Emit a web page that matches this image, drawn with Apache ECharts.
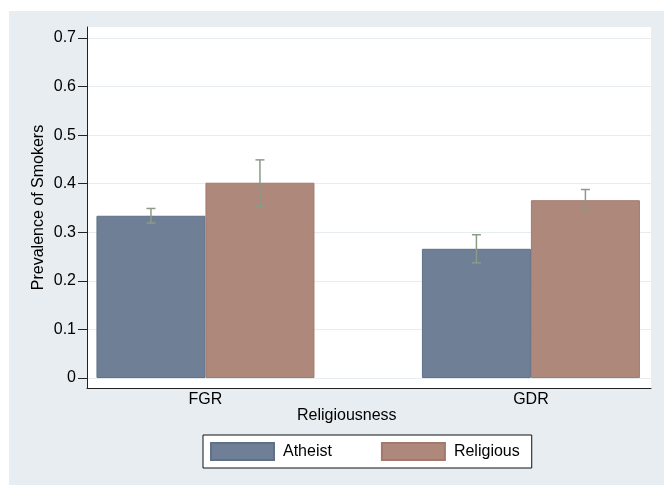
<!DOCTYPE html>
<html>
<head>
<meta charset="utf-8">
<script src="https://cdn.jsdelivr.net/npm/echarts@6/dist/echarts.min.js"></script>
<style>
  html, body { margin: 0; padding: 0; background: #fff; }
  #main { width: 664px; height: 485px; }
</style>
</head>
<body>
<div id="main"></div>
<script>
// data
let groups = ['FGR', 'GDR'];
let seriesNames = ['Atheist', 'Religious'];
let atheistVals = [0.334, 0.266];
let atheistLo = [0.319, 0.237];
let atheistHi = [0.349, 0.295];
let religiousVals = [0.402, 0.366];
let religiousLo = [0.353, 0.343];
let religiousHi = [0.449, 0.388];
let yTicks = [0, 0.1, 0.2, 0.3, 0.4, 0.5, 0.6, 0.7];

const FONT = '"Liberation Sans", Arial, Helvetica, sans-serif';
const BAR_W = 109;
const colors = ['#6e7f96', '#ae887b'];
const borders = ['#5f7089', '#a3796c'];

function createChart() {
  let myChart = echarts.init(document.getElementById('main'));

  // error bar drawer, side -1 = left bar of the group, +1 = right bar
  function errBar(side) {
    return function (params, api) {
      let x = api.value(0);
      let top = api.coord([x, api.value(2)]);
      let bot = api.coord([x, api.value(1)]);
      let cx = top[0] + side * BAR_W / 2;
      let cap = 4.5;
      let st = { stroke: '#8c9a88', lineWidth: 1.5 };
      return {
        type: 'group',
        children: [
          { type: 'line', shape: { x1: cx, y1: top[1], x2: cx, y2: bot[1] }, style: st },
          { type: 'line', shape: { x1: cx - cap, y1: top[1], x2: cx + cap, y2: top[1] }, style: st },
          { type: 'line', shape: { x1: cx - cap, y1: bot[1], x2: cx + cap, y2: bot[1] }, style: st }
        ]
      };
    };
  }

  let option = {
    animation: false,
    textStyle: { fontFamily: FONT },
    graphic: [
      {
        type: 'rect', left: 9, top: 11, z: -10,
        shape: { width: 655, height: 474 },
        style: { fill: '#e8edf1' }
      }
    ],
    title: {
      text: 'Religiousness',
      left: 297, top: 408,
      padding: 0,
      textStyle: { fontFamily: FONT, fontSize: 16, fontWeight: 'normal', color: '#000' }
    },
    legend: {
      data: seriesNames,
      left: 203, top: 435,
      orient: 'horizontal',
      padding: [7, 12, 7, 7],
      itemWidth: 63,
      itemHeight: 17,
      itemGap: 49,
      icon: 'rect',
      backgroundColor: '#fff',
      borderColor: '#111',
      borderWidth: 1,
      borderRadius: 0,
      textStyle: { fontFamily: FONT, fontSize: 16, color: '#000', padding: [0, 0, 0, 4] }
    },
    grid: {
      left: 87, right: 13, top: 27, bottom: 97,
      show: true, backgroundColor: '#fff', borderWidth: 0
    },
    xAxis: {
      type: 'value',
      min: -0.364,
      max: 1.369,
      axisLine: { show: true, onZero: false, lineStyle: { color: '#222', width: 1 } },
      axisTick: { show: false },
      splitLine: { show: false },
      axisLabel: {
        customValues: [0, 1],
        formatter: function (v) { return groups[Math.round(v)]; },
        margin: 4,
        fontSize: 16,
        color: '#000',
        fontFamily: FONT
      }
    },
    yAxis: {
      type: 'value',
      min: -0.0205,
      max: 0.7225,
      name: 'Prevalence of Smokers',
      nameLocation: 'middle',
      nameGap: 40,
      nameMoveOverlap: false,
      nameRotate: 90,
      nameTextStyle: { fontSize: 16, color: '#000', fontFamily: FONT },
      axisLine: { show: true, onZero: false, lineStyle: { color: '#222', width: 1 } },
      axisTick: { show: true, customValues: yTicks, length: 9, inside: false, lineStyle: { color: '#222' } },
      axisLabel: {
        customValues: yTicks,
        formatter: function (v) { return v === 0 ? '0' : v.toFixed(1); },
        margin: 11,
        fontSize: 16,
        color: '#000',
        fontFamily: FONT
      },
      splitLine: { show: true, lineStyle: { color: '#e6ecf0', width: 1 } }
    },
    series: [
      {
        name: seriesNames[0],
        type: 'bar',
        barWidth: BAR_W,
        barGap: '0%',
        data: atheistVals.map(function (v, i) { return [i, v]; }),
        itemStyle: { color: colors[0], borderColor: borders[0], borderWidth: 1 }
      },
      {
        name: seriesNames[1],
        type: 'bar',
        barWidth: BAR_W,
        barGap: '0%',
        data: religiousVals.map(function (v, i) { return [i, v]; }),
        itemStyle: { color: colors[1], borderColor: borders[1], borderWidth: 1 }
      },
      {
        type: 'custom',
        renderItem: errBar(-1),
        data: atheistLo.map(function (v, i) { return [i, v, atheistHi[i]]; }),
        z: 5
      },
      {
        type: 'custom',
        renderItem: errBar(1),
        data: religiousLo.map(function (v, i) { return [i, v, religiousHi[i]]; }),
        z: 5
      }
    ]
  };
  myChart.setOption(option);
}

createChart();
</script>
</body>
</html>
